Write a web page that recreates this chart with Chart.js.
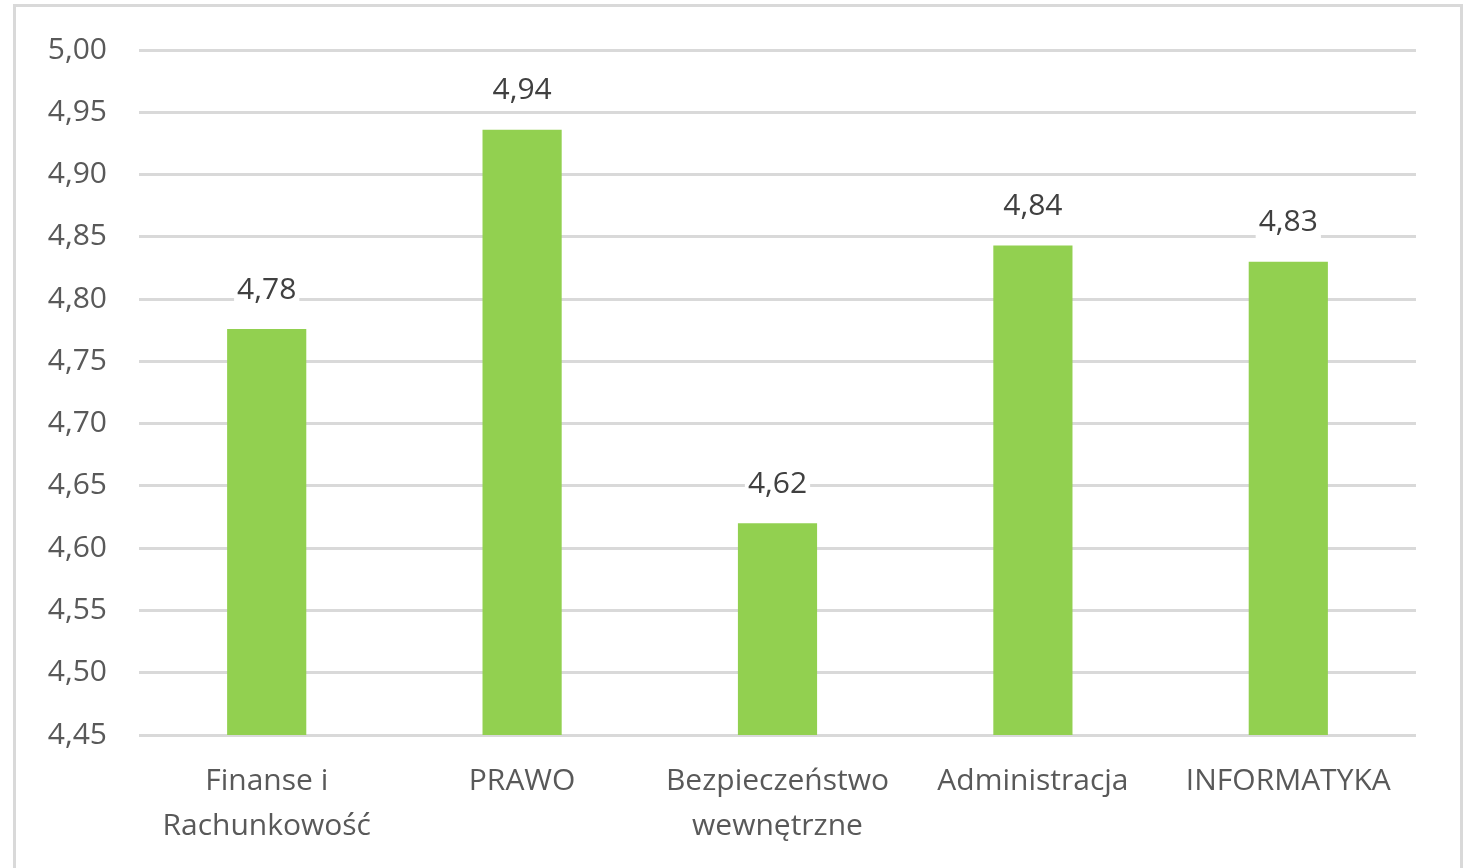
<!DOCTYPE html>
<html lang="pl">
<head>
  <meta charset="UTF-8" />
  <title>Średnia ocena wg kierunku</title>
  <script src="https://cdn.jsdelivr.net/npm/chart.js"></script>
  <style>
    html, body {
      margin: 0;
      padding: 0;
      background: #fff;
      overflow: hidden;
    }
    #wrap {
      position: relative;
      width: 1468px;
      height: 868px;
    }
    #frame {
      position: absolute;
      left: 13px;
      top: 4px;
      width: 1444px;
      height: 900px;
      border: 3px solid #d9d9d9;
      pointer-events: none;
    }
  </style>
</head>
<body>
  <div id="wrap">
    <canvas id="chart" width="1468" height="868"></canvas>
    <div id="frame"></div>
  </div>

  <script>
    const categories = [
      ['Finanse i', 'Rachunkowość'],
      'PRAWO',
      ['Bezpieczeństwo', 'wewnętrzne'],
      'Administracja',
      'INFORMATYKA'
    ];
    const values = [4.776, 4.936, 4.62, 4.843, 4.83];
    const yMin = 4.45;
    const yMax = 5.00;
    const yStep = 0.05;

    const fmt = v => v.toFixed(2).replace('.', ',');
    const FONT = '"Open Sans", "Noto Sans", sans-serif';

    // value labels above bars, with white box behind (like Excel)
    const barLabels = {
      id: 'barLabels',
      afterDatasetsDraw(chart) {
        const ctx = chart.ctx;
        const meta = chart.getDatasetMeta(0);
        ctx.save();
        ctx.font = '30px ' + FONT;
        ctx.textAlign = 'center';
        ctx.textBaseline = 'middle';
        meta.data.forEach((bar, i) => {
          const txt = fmt(values[i]);
          const w = ctx.measureText(txt).width;
          const y = bar.y - 39;
          ctx.fillStyle = '#fff';
          ctx.fillRect(bar.x - w / 2 - 3, y - 18, w + 6, 36);
          ctx.fillStyle = '#404040';
          ctx.fillText(txt, bar.x, y);
        });
        ctx.restore();
      }
    };

    new Chart(document.getElementById('chart'), {
      type: 'bar',
      data: {
        labels: categories,
        datasets: [{
          data: values,
          backgroundColor: '#92d050',
          borderWidth: 0,
          barPercentage: 0.31,
          categoryPercentage: 1.0
        }]
      },
      options: {
        responsive: false,
        animation: false,
        devicePixelRatio: 1,
        layout: { padding: { top: 48, right: 52, left: 0, bottom: 0 } },
        plugins: {
          legend: { display: false },
          tooltip: { enabled: false }
        },
        scales: {
          x: {
            grid: { display: false, drawTicks: false },
            border: { display: false },
            ticks: {
              color: '#595959',
              font: { family: FONT, size: 30, lineHeight: 1.5 },
              padding: 24,
              autoSkip: false,
              maxRotation: 0,
              minRotation: 0
            },
            afterFit(scale) { scale.height = 133; }
          },
          y: {
            min: yMin,
            max: yMax,
            grid: { color: '#d9d9d9', lineWidth: 3, drawTicks: false },
            border: { display: false },
            ticks: {
              stepSize: yStep,
              color: '#595959',
              font: { family: FONT, size: 30 },
              padding: 32,
              callback: v => fmt(v)
            },
            afterFit(scale) { scale.width = 139; }
          }
        }
      },
      plugins: [barLabels]
    });
  </script>
</body>
</html>
